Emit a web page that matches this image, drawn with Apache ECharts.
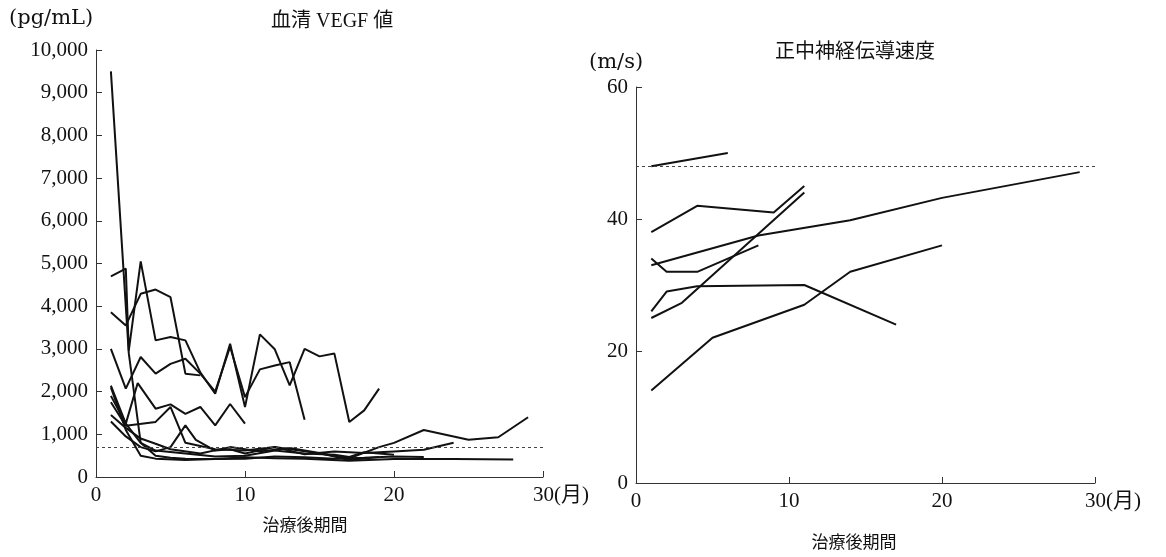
<!DOCTYPE html>
<html><head><meta charset="utf-8">
<script src="https://cdn.jsdelivr.net/npm/echarts@6/dist/echarts.min.js"></script>
<style>html,body{margin:0;padding:0;background:#fff}#c{width:1166px;height:557px}</style>
</head><body><div id="c"></div>
<script>
// ---- data (month, value) ----
const vegfTicksY = [0,1000,2000,3000,4000,5000,6000,7000,8000,9000,10000];
const monthTicks = [0,10,20,30];
const vegfRef = 700;
const vegf1 = [[1,9500],[2.2,2900],[3,800],[4,500],[5,450],[6,430],[8,420],[10,460],[12,440],[14,430],[17,380],[20,420],[24,420],[28,410]];
const vegf2 = [[1,4700],[2,4880],[2.2,2960],[3,5050],[4,3200],[5,3280],[6,3200],[7,2450],[8,1950],[9,3120],[10,1640],[11,3340],[12,2990],[13,2145],[14,3000],[15,2825],[16,2890],[17,1290],[18,1560],[19,2070]];
const vegf3 = [[1,3860],[2,3550],[3,4290],[4,4390],[5,4210],[6,2420],[7,2380]];
const vegf4 = [[1,3000],[2,2070],[3,2810],[4,2420],[5,2650],[6,2770],[7,2420],[8,2000],[9,3050],[10,1870],[11,2520],[12,2610],[13,2690],[14,1340]];
const vegf5 = [[1,2140],[2,1250],[2.8,2200],[4,1600],[5,1700],[6,1480],[7,1640],[8,1210],[9,1710],[10,1250]];
const vegf6 = [[1,1750],[2,1200],[4,1290],[5,1640],[6,800],[8,650],[10,620],[12,700],[14,600],[15,550],[17,440],[19,700],[20,800],[22,1100],[25,870],[27,930],[29,1400]];
const vegf7 = [[1,1300],[2,950],[3,700],[4,600],[5,700],[6,1210],[6.7,870],[8,620],[9,650],[10,550],[12,700],[14,530],[16,600],[18,560],[20,600],[22,640],[24,800]];
const vegf8 = [[1,2100],[2,1100],[3,500],[4,430],[6,400],[8,420],[10,430],[12,480],[14,460],[16,430],[18,450],[20,480],[22,470]];
const vegf9 = [[1,1900],[2,1250],[3,800],[4,620],[6,550],[8,480],[10,500],[12,620],[14,550],[16,520],[17,470],[18,580],[20,520]];
const vegf10 = [[1,1450],[2,1150],[3,900],[4,780],[5,650],[7,550],[9,700],[11,600],[13,680],[15,560],[17,400],[19,470]];

const ncvTicksY = [0,20,40,60];
const ncvRef = 48;
const ncv1 = [[1,48],[6,50]];
const ncv2 = [[1,38],[4,42],[9,41],[11,45]];
const ncv3 = [[1,33],[8,37.5],[14,39.8],[20,43.2],[29,47.1]];
const ncv4 = [[1,34],[2,32],[4,32],[8,36]];
const ncv5 = [[1,26],[2,29],[4,29.8],[11,30],[17,24]];
const ncv6 = [[1,25],[3,27.3],[11,44]];
const ncv7 = [[1,14],[5,22],[8,24.5],[11,27],[14,32],[20,36]];

const vegfSeries = [vegf1,vegf2,vegf3,vegf4,vegf5,vegf6,vegf7,vegf8,vegf9,vegf10];
const ncvSeries = [ncv1,ncv2,ncv3,ncv4,ncv5,ncv6,ncv7];

const FONT = "'Liberation Serif','DejaVu Serif','Noto Sans CJK JP',serif";
const UFONT = "'DejaVu Serif','Liberation Serif',serif";
const JFONT = "'Liberation Serif','Noto Sans CJK JP',serif";
const INK = '#111';

function xAx(gi){
  return {type:'value',gridIndex:gi,min:0,max:30,interval:10,
    axisLine:{show:true,lineStyle:{color:'#333',width:1}},
    axisTick:{show:true,inside:true,length:6,lineStyle:{color:'#333'}},
    splitLine:{show:false},
    axisLabel:{color:INK,fontFamily:FONT,fontSize:21,margin:8,
      formatter:v=>v===30?'{a|30(月)}':String(v),
      rich:{a:{padding:[0,0,0,36],color:INK,fontFamily:JFONT,fontSize:21}}}};
}
function yAx(gi,max,interval,fmt){
  return {type:'value',gridIndex:gi,min:0,max:max,interval:interval,
    axisLine:{show:true,lineStyle:{color:'#333',width:1}},
    axisTick:{show:true,inside:true,length:6,lineStyle:{color:'#333'}},
    splitLine:{show:false},
    axisLabel:{color:INK,fontFamily:FONT,fontSize:21,margin:8,formatter:fmt}};
}
const series = [];
vegfSeries.forEach((d,i)=>series.push({type:'line',xAxisIndex:0,yAxisIndex:0,data:d,symbol:'none',
  lineStyle:{color:INK,width:2},silent:true,
  markLine: i===0?{symbol:'none',silent:true,label:{show:false},lineStyle:{color:'#444',type:[3,3],width:1},
    data:[{yAxis:vegfRef}]}:undefined}));
ncvSeries.forEach((d,i)=>series.push({type:'line',xAxisIndex:1,yAxisIndex:1,data:d,symbol:'none',
  lineStyle:{color:INK,width:2},silent:true,
  markLine: i===0?{symbol:'none',silent:true,label:{show:false},lineStyle:{color:'#444',type:[3,3],width:1},
    data:[{yAxis:ncvRef}]}:undefined}));

const chart = echarts.init(document.getElementById('c'),null,{renderer:'canvas'});
chart.setOption({
  animation:false,
  backgroundColor:'#fff',
  title:[
    {text:'(pg/mL)',left:4,top:3,textStyle:{fontFamily:UFONT,fontSize:21,fontWeight:'normal',color:INK}},
    {text:'血清 VEGF 値',left:266,top:7,textStyle:{fontFamily:JFONT,fontSize:20,fontWeight:'normal',color:INK}},
    {text:'治療後期間',left:300,textAlign:'center',top:513,textStyle:{fontFamily:JFONT,fontSize:17,fontWeight:'normal',color:INK}},
    {text:'(m/s)',left:584,top:47,textStyle:{fontFamily:UFONT,fontSize:21,fontWeight:'normal',color:INK}},
    {text:'正中神経伝導速度',left:770,top:38,textStyle:{fontFamily:JFONT,fontSize:20,fontWeight:'normal',color:INK}},
    {text:'治療後期間',left:849,textAlign:'center',top:530,textStyle:{fontFamily:JFONT,fontSize:17,fontWeight:'normal',color:INK}}
  ],
  grid:[
    {left:96,top:50,width:447,height:427},
    {left:636,top:87,width:459,height:396}
  ],
  xAxis:[xAx(0),xAx(1)],
  yAxis:[
    yAx(0,10000,1000,v=>v.toLocaleString('en-US')),
    yAx(1,60,20,v=>String(v))
  ],
  series:series
});
</script></body></html>
